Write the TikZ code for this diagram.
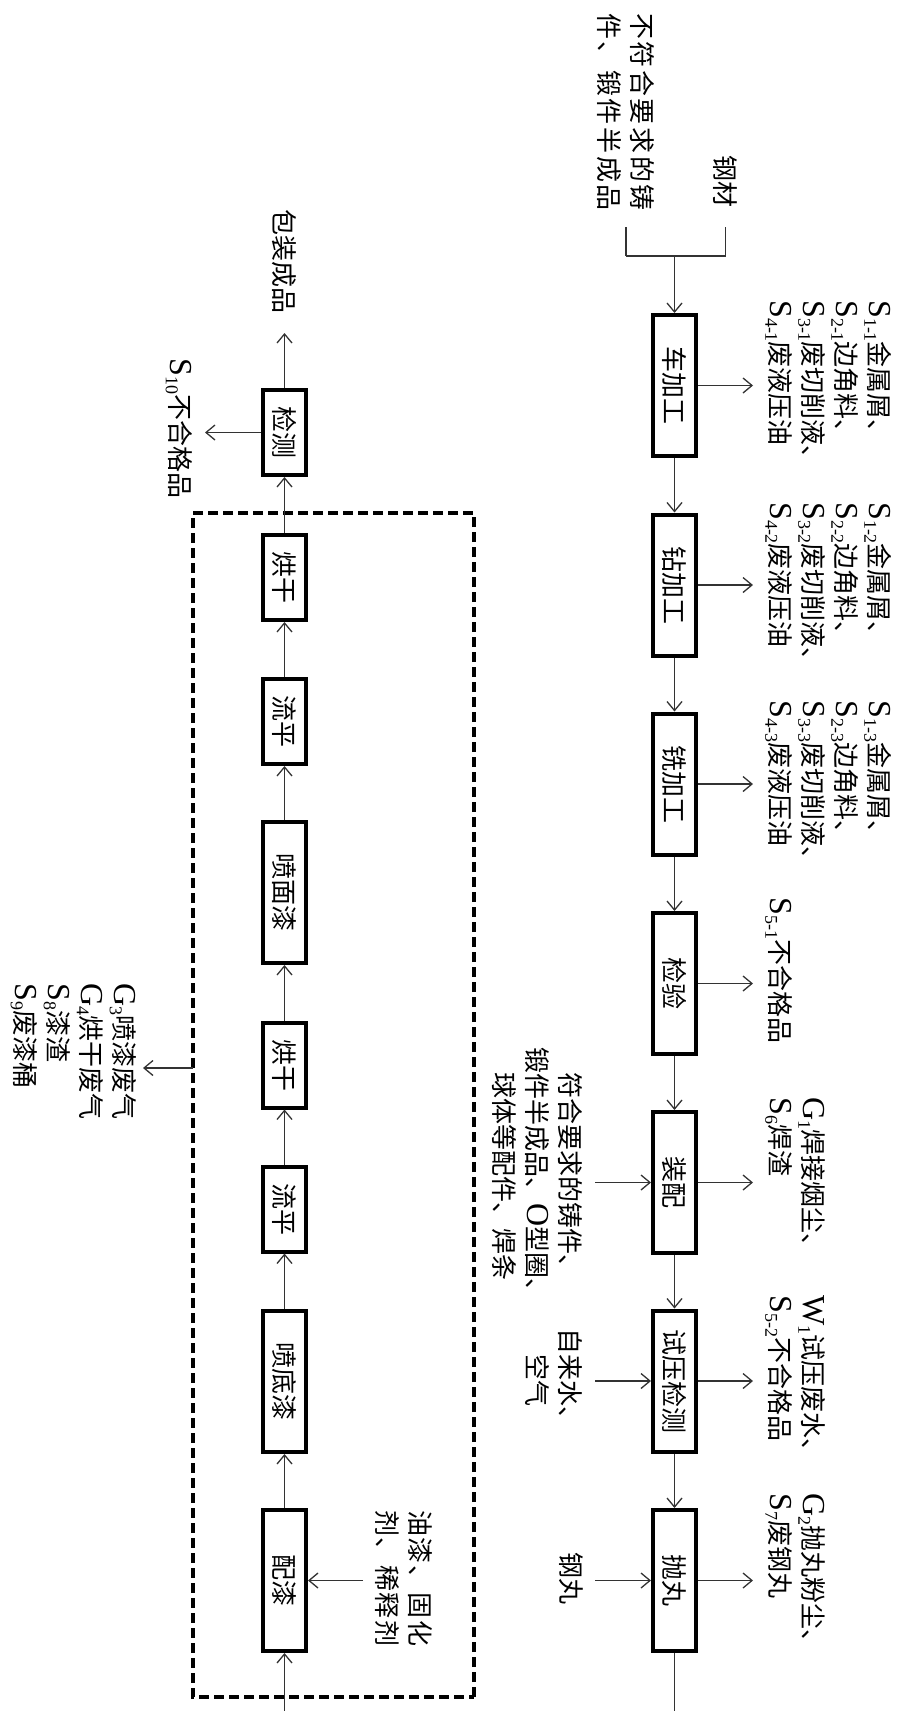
\documentclass[tikz,border=0pt]{standalone}
\usepackage{fontspec}
\usepackage{tikz}
\usetikzlibrary{arrows.meta,positioning}
\setmainfont{Noto Sans CJK SC}
\newfontfamily\latinf{Liberation Serif}
\newcommand\pol[2]{{\latinf\fontsize{32}{33}\selectfont #1}\raisebox{-5pt}[0pt][0pt]{\latinf\fontsize{18}{18}\selectfont #2}}
\newcommand\lat[1]{{\latinf\fontsize{32}{33}\selectfont #1}}

\begin{document}
\begin{tikzpicture}[x=1pt,y=1pt,
  font=\fontsize{26}{33}\selectfont,
  proc/.style={draw,line width=4pt,minimum width=141pt,minimum height=43pt,inner sep=0pt},
  procs/.style={proc,minimum width=85pt},
  lbl/.style={align=left,inner sep=0pt},
  lblc/.style={align=center,inner sep=0pt},
  arr/.style={-{Straight Barb[length=9pt,width=15pt]},line width=1.3pt,color=black!80},
  link/.style={line width=1.3pt,color=black!80},
  dashbox/.style={draw,line width=3.5pt,dash pattern=on 10pt off 5pt,minimum width=1184pt,
                  minimum height=281pt,inner sep=0pt},
]
\begin{scope}[rotate=-90,transform shape]
  \useasboundingbox (0,0) rectangle (1711,901);

  % machining line
  \node[proc] (che) at (385.5,674.5) {车加工};
  \node[proc] (zuan) at (585,674.5) {钻加工};
  \node[proc] (xi) at (784,674.5) {铣加工};
  \node[proc] (jianyan) at (983.5,674.5) {检验};
  \node[proc] (zhuangpei) at (1182.5,674.5) {装配};
  \node[proc] (shiya) at (1381,674.5) {试压检测};
  \node[proc] (paowan) at (1580.5,674.5) {抛丸};

  % raw material
  \node[inner sep=0pt,anchor=east] (gangcai) at (208,725.5) {钢材};
  \node[lbl,anchor=east] (buhege) at (211,626)
    {\addfontfeature{LetterSpace=10}不符合要求的铸\\\addfontfeature{LetterSpace=10}件、锻件半成品};
  \coordinate (gb) at (256,725.5);
  \coordinate (fb) at (256,626);
  \coordinate (cin) at (256,674.5);
  \draw[link,shorten <=19pt] (gangcai.east) -- (gb) -- (fb);
  \draw[link,shorten <=16pt] (buhege.east) -- (fb);
  \draw[arr] (cin) -- (che);

  \draw[arr] (che) -- (zuan);
  \draw[arr] (zuan) -- (xi);
  \draw[arr] (xi) -- (jianyan);
  \draw[arr] (jianyan) -- (zhuangpei);
  \draw[arr] (zhuangpei) -- (shiya);
  \draw[arr] (shiya) -- (paowan);
  \coordinate (fwd) at (1711,674.5);
  \draw[link] (paowan) -- (fwd);

  % outputs
  \coordinate (t1) at (385.5,753);
  \coordinate (t2) at (585,753);
  \coordinate (t3) at (784,753);
  \coordinate (t4) at (983.5,753);
  \coordinate (t5) at (1182.5,753);
  \coordinate (t6) at (1381,753);
  \coordinate (t7) at (1580.5,753);
  \draw[arr] (che) -- (t1);
  \draw[arr] (zuan) -- (t2);
  \draw[arr] (xi) -- (t3);
  \draw[arr] (jianyan) -- (t4);
  \draw[arr] (zhuangpei) -- (t5);
  \draw[arr] (shiya) -- (t6);
  \draw[arr] (paowan) -- (t7);

  \node[lbl,anchor=south west] (o1) at (300,768)
    {\pol{S}{1-1}金属屑、\\\pol{S}{2-1}边角料、\\\pol{S}{3-1}废切削液、\\\pol{S}{4-1}废液压油};
  \node[lbl,anchor=south west] (o2) at (502,768)
    {\pol{S}{1-2}金属屑、\\\pol{S}{2-2}边角料、\\\pol{S}{3-2}废切削液、\\\pol{S}{4-2}废液压油};
  \node[lbl,anchor=south west] (o3) at (700,768)
    {\pol{S}{1-3}金属屑、\\\pol{S}{2-3}边角料、\\\pol{S}{3-3}废切削液、\\\pol{S}{4-3}废液压油};
  \node[lbl,anchor=south west] (o4) at (897,768) {\pol{S}{5-1}不合格品};
  \node[lbl,anchor=south west] (o5) at (1097,768) {\pol{G}{1}焊接烟尘、\\\pol{S}{6}焊渣};
  \node[lbl,anchor=south west] (o6) at (1295,768) {\pol{W}{1}试压废水、\\\pol{S}{5-2}不合格品};
  \node[lbl,anchor=south west] (o7) at (1493,768) {\pol{G}{2}抛丸粉尘、\\\pol{S}{7}废钢丸};

  % inputs
  \coordinate (i5) at (1182.5,595);
  \coordinate (i6) at (1381,595);
  \coordinate (i7) at (1580.5,595);
  \draw[arr] (i5) -- (zhuangpei);
  \draw[arr] (i6) -- (shiya);
  \draw[arr] (i7) -- (paowan);
  \node[lblc,anchor=north] (in5) at (1176,583)
    {符合要求的铸件、\\锻件半成品、\lat{O}型圈、\\球体等配件、焊条};
  \node[lblc,anchor=north] (in6) at (1380,583) {自来水、\\空气};
  \node[lblc,anchor=north] (in7) at (1578,583) {钢丸};

  % painting line
  \node[dashbox] (paint) at (1105,333.5) {};
  \node[proc] (peiqi) at (1580.5,284.5) {配漆};
  \node[proc] (pendi) at (1381.5,284.5) {喷底漆};
  \node[procs] (liuping2) at (1209,284.5) {流平};
  \node[procs] (honggan2) at (1065,284.5) {烘干};
  \node[proc] (penmian) at (892.5,284.5) {喷面漆};
  \node[procs] (liuping1) at (721.5,284.5) {流平};
  \node[procs] (honggan1) at (577.5,284.5) {烘干};
  \node[procs] (jiance) at (432.5,284.5) {检测};

  \coordinate (back) at (1711,284.5);
  \draw[arr] (back) -- (peiqi);
  \draw[arr] (peiqi) -- (pendi);
  \draw[arr] (pendi) -- (liuping2);
  \draw[arr] (liuping2) -- (honggan2);
  \draw[arr] (honggan2) -- (penmian);
  \draw[arr] (penmian) -- (liuping1);
  \draw[arr] (liuping1) -- (honggan1);
  \draw[arr] (honggan1) -- (jiance);

  \coordinate (pin) at (1580.5,363);
  \draw[arr] (pin) -- (peiqi);
  \node[lbl,anchor=south west] (paintin) at (1510,375)
    {\addfontfeature{LetterSpace=6}油漆、固化\\\addfontfeature{LetterSpace=6}剂、稀释剂};

  \coordinate (gbase) at (1068,193);
  \coordinate (gtip) at (1068,143);
  \draw[arr] (gbase) -- (gtip);
  \node[lbl,anchor=north west] (gas) at (983,137)
    {\pol{G}{3}喷漆废气\\\pol{G}{4}烘干废气\\\pol{S}{8}漆渣\\\pol{S}{9}废漆桶};

  \coordinate (pk) at (333,284.5);
  \draw[arr] (jiance) -- (pk);
  \node[inner sep=0pt,anchor=east] (pack) at (314,284.5) {包装成品};
  \coordinate (j10) at (432.5,205);
  \draw[arr] (jiance) -- (j10);
  \node[lbl,anchor=north west] (s10) at (358,193) {\pol{S}{10}不合格品};
\end{scope}
\end{tikzpicture}
\end{document}
